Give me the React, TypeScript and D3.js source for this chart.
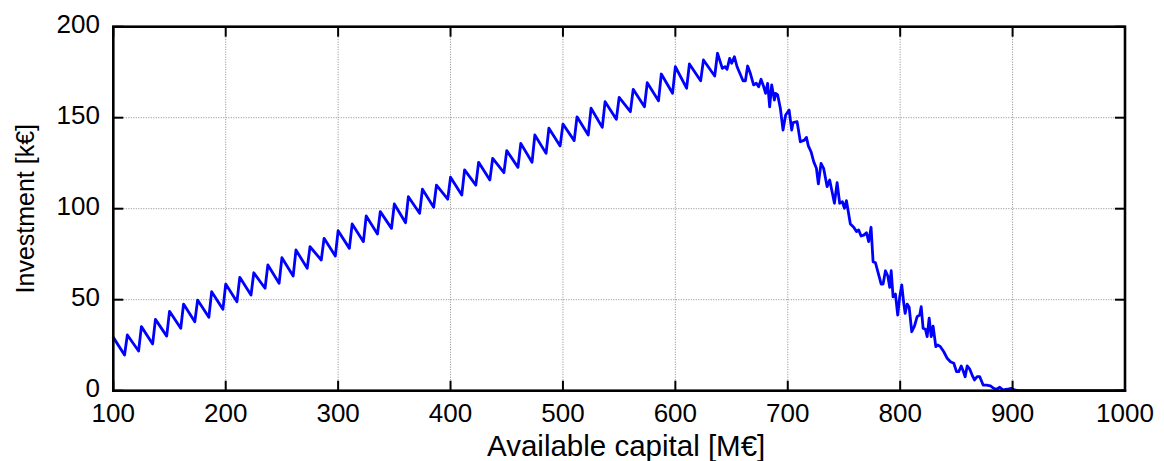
import React from "react";
import * as d3 from "d3";

// Investment response vs. available capital
const capital: number[] = [
  100, 110, 112.5, 122.5, 125, 135, 137.5, 147.5, 150, 160, 162.5, 172.5, 175, 185, 187.5, 197.5,
  200, 210, 212.5, 222.5, 225, 235, 237.5, 247.5, 250, 260, 262.5, 272.5, 275, 285, 287.5, 297.5,
  300, 310, 312.5, 322.5, 325, 335, 337.5, 347.5, 350, 360, 362.5, 372.5, 375, 385, 387.5, 397.5,
  400, 410, 412.5, 422.5, 425, 435, 437.5, 447.5, 450, 460, 462.5, 472.5, 475, 485, 487.5, 497.5,
  500, 510, 512.5, 522.5, 525, 535, 537.5, 547.5, 550, 560, 562.5, 572.5, 575, 585, 587.5, 597.5,
  600, 610, 612.5, 622.5, 625, 635, 637.5,
  641.8, 644.2, 646, 648.3, 650.1, 652.5, 654.9, 660.2, 662.3, 664.3, 666.7, 669.6, 672, 674.1,
  676.2, 678.6, 680.3, 682.1, 683.9, 685.7, 688.1, 689.2, 691, 693.4, 695.8, 698.1, 701.2, 703.5,
  704.7, 708.3, 711.2, 714.8, 716.6, 718.3, 720.7, 723.1, 725.5, 727.2, 729.6, 731.9, 735, 737.3,
  739.7, 741.5, 743.9, 746.2, 748.6, 750.4, 752.2, 755.7, 758.7, 761.1, 763.1, 765.2, 767.6, 770,
  772, 774.1, 775.9, 778, 780.9, 783.1, 784.8, 786.9, 789, 790.7, 792, 793.7, 795.8, 797.8, 799.6,
  801.4, 803.2, 804.4, 806.2, 808, 810.3, 812.7, 815.1, 817.4, 818.7, 820.4, 822.5, 824, 825.8,
  827.6, 829.3, 831.7, 833.4, 835.8, 838.8, 841.8, 844.7, 847.7, 850.1, 852.1, 854.3, 856, 857.8,
  859.6, 861.9, 864, 866.1, 868.5, 870.8, 873.8, 876.8, 880.3, 883.3, 885.7, 888.6, 891.6, 895.2,
  898.8, 901.7, 905.5, 1000,
];

const investment: number[] = [
  29.3, 19.6, 30.6, 21.8, 35.2, 25.7, 39.2, 30.0, 43.6, 34.3, 47.6, 37.9, 49.8, 40.3, 54.4, 44.7,
  58.6, 48.9, 62.3, 52.6, 64.8, 56.3, 69.1, 59.0, 73.1, 63.0, 77.3, 67.3, 79.1, 71.8, 83.7, 74.0,
  87.9, 78.2, 91.6, 81.9, 96.0, 86.1, 98.4, 89.2, 102.6, 92.3, 106.6, 97.5, 110.7, 100.8, 113.0, 105.2,
  117.3, 107.5, 121.3, 113.0, 125.5, 115.8, 127.7, 119.8, 131.9, 122.7, 135.9, 125.5, 140.5, 130.4, 144.2, 134.5,
  146.5, 137.4, 150.5, 140.5, 155.2, 144.7, 158.8, 149.1, 161.2, 153.3, 165.6, 156.0, 169.2, 159.3, 174.0, 163.4,
  178.0, 166.2, 179.5, 170.3, 181.7, 172.9, 185.4,
  177.1, 178, 176.6, 182.6, 179.9, 183.5, 178, 170.3, 170.3, 178.4, 174.4, 168, 168.9, 167,
  171.1, 167, 163.4, 168.9, 156, 168, 159.7, 163.4, 162.5, 155.2, 143.2, 151.5, 154.2, 143.2,
  147.3, 147.8, 136.8, 137.7, 139.2, 134.5, 131.3, 125.8, 122.2, 113.6, 124.9, 122.2, 112.1, 115.8,
  108.5, 103, 114.3, 103, 103.8, 100.2, 104.4, 91.6, 89.8, 87.4, 88.3, 85, 85.5, 86.8,
  81.9, 89.8, 70.9, 70.3, 63.6, 58.6, 58.6, 65.9, 63, 56.8, 65.9, 51.6, 53.1, 41.6, 51.6,
  58.1, 48, 42.5, 47.6, 45.8, 32.4, 35.5, 40.7, 41.6, 46.2, 34.3, 33.7, 29.7, 39.8,
  29.7, 35.5, 24.2, 25.1, 24.2, 21.4, 17.8, 15.9, 15.1, 10.5, 10.5, 13.6, 11, 7.7,
  13.6, 11.8, 8.6, 5.9, 7.7, 7.7, 3.1, 3.1, 2.6, 1.3, 0.8, 1.9, 0.4, 0.8,
  1.3, 0.4, 0, 0,
];

const xTicks: number[] = [100, 200, 300, 400, 500, 600, 700, 800, 900, 1000];
const yTicks: number[] = [0, 50, 100, 150, 200];

const xLabel = "Available capital [M€]";
const yLabel = "Investment [k€]";

const W = 1164;
const H = 461;
const left = 113.3;
const right = 1125;
const top = 26.7;
const bottom = 390.7;
const FONT = "'Liberation Sans', Arial, Helvetica, sans-serif";
const TICK = 10;

export default function App() {
  const x = d3.scaleLinear().domain([100, 1000]).range([left, right]);
  const y = d3.scaleLinear().domain([0, 200]).range([bottom, top]);

  const points = capital.map((c, i) => [c, investment[i]] as [number, number]);
  const path = d3
    .line<[number, number]>()
    .x((d) => x(d[0]))
    .y((d) => y(d[1]))(points) as string;

  return (
    <svg
      width={W}
      height={H}
      style={{ position: "absolute", left: 0, top: 0, background: "#fff" }}
    >
      <rect x={0} y={0} width={W} height={H} fill="#fff" />

      {/* dotted grid */}
      <g stroke="#8a8a8a" strokeWidth={1} strokeDasharray="1 1.5">
        {xTicks.slice(1, -1).map((t) => (
          <line key={"gx" + t} x1={x(t)} x2={x(t)} y1={top} y2={bottom} />
        ))}
        {yTicks.slice(1, -1).map((t) => (
          <line key={"gy" + t} x1={left} x2={right} y1={y(t)} y2={y(t)} />
        ))}
      </g>

      {/* data line */}
      <path
        d={path}
        fill="none"
        stroke="#0000ff"
        strokeWidth={2.8}
        strokeLinejoin="round"
        strokeLinecap="round"
      />

      {/* inward ticks on every side */}
      <g stroke="#000" strokeWidth={2}>
        {xTicks.map((t) => (
          <g key={"tx" + t}>
            <line x1={x(t)} x2={x(t)} y1={bottom} y2={bottom - TICK} />
            <line x1={x(t)} x2={x(t)} y1={top} y2={top + TICK} />
          </g>
        ))}
        {yTicks.map((t) => (
          <g key={"ty" + t}>
            <line x1={left} x2={left + TICK} y1={y(t)} y2={y(t)} />
            <line x1={right} x2={right - TICK} y1={y(t)} y2={y(t)} />
          </g>
        ))}
      </g>

      {/* axes box */}
      <rect
        x={left}
        y={top}
        width={right - left}
        height={bottom - top}
        fill="none"
        stroke="#000"
        strokeWidth={2.6}
      />

      {/* tick labels */}
      <g fontFamily={FONT} fill="#000">
        {xTicks.map((t) => (
          <text key={"lx" + t} x={x(t)} y={422} textAnchor="middle" fontSize={26}>
            {t}
          </text>
        ))}
        {yTicks.map((t) => (
          <text key={"ly" + t} x={100} y={y(t) + 6} textAnchor="end" fontSize={26}>
            {t}
          </text>
        ))}
      </g>

      {/* axis titles */}
      <text
        x={(left + right) / 2 + 7}
        y={456}
        textAnchor="middle"
        fontFamily={FONT}
        fontSize={29.5}
        fill="#000"
      >
        {xLabel}
      </text>
      <text
        transform={`translate(34, ${(top + bottom) / 2}) rotate(-90)`}
        textAnchor="middle"
        fontFamily={FONT}
        fontSize={25}
        fill="#000"
      >
        {yLabel}
      </text>
    </svg>
  );
}
